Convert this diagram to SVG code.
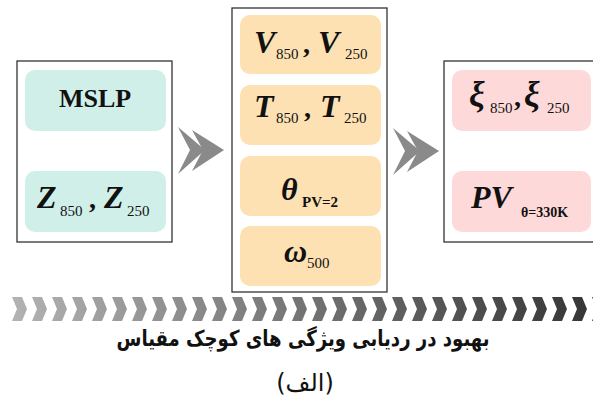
<svg xmlns="http://www.w3.org/2000/svg" width="593" height="399" viewBox="0 0 593 399">
<defs>
<linearGradient id="band" gradientUnits="userSpaceOnUse" x1="0" y1="0" x2="593" y2="0">
<stop offset="0" stop-color="#b5b5b5"/>
<stop offset="1" stop-color="#353535"/>
</linearGradient>
<g id="dbl">
<polygon points="0,0 27,23 0,47 12,23"/>
<polygon points="14,3 46,23 14,44 25,23"/>
</g>
</defs>
<style>
.outer{fill:#fff;stroke:#333;stroke-width:1.3}
.teal{fill:#d0efe9}
.peach{fill:#fde1b3}
.pink{fill:#fdd9d9}
.big{font-family:"Liberation Serif",serif;font-weight:bold;font-style:italic;font-size:32px;fill:#111}
.sub{font-family:"Liberation Serif",serif;font-size:15px;fill:#111}
.subb{font-family:"Liberation Serif",serif;font-size:15px;font-weight:bold;fill:#111}
.cm{font-family:"Liberation Serif",serif;font-weight:bold;font-size:28px;fill:#111}
.up{font-family:"Liberation Serif",serif;font-weight:bold;font-size:26px;fill:#111}
.fa{font-family:"DejaVu Sans",sans-serif;fill:#111}
.arw{fill:#8a8a8a}
</style>

<g id="left-box">
<rect class="outer" x="17" y="61" width="155" height="181"/>
</g>
<g id="mslp">
<rect class="teal" x="25" y="70" width="141" height="61" rx="10"/>
<text class="up" x="95" y="107" text-anchor="middle">MSLP</text>
</g>
<g id="z">
<rect class="teal" x="25" y="171" width="141" height="61" rx="10"/>
<text class="big" x="37" y="208">Z</text>
<text class="sub" x="60" y="216">850</text>
<text class="cm" x="89" y="208">,</text>
<text class="big" x="104" y="208">Z</text>
<text class="sub" x="127" y="216">250</text>
</g>

<g id="middle-box">
<rect class="outer" x="232" y="8" width="155" height="284"/>
</g>
<g id="v">
<rect class="peach" x="240" y="15" width="141" height="59" rx="10"/>
<text class="big" x="254" y="53">V</text>
<text class="sub" x="276" y="59">850</text>
<text class="cm" x="303" y="53">,</text>
<text class="big" x="318" y="53">V</text>
<text class="sub" x="345" y="59">250</text>
</g>
<g id="t">
<rect class="peach" x="240" y="85" width="141" height="60" rx="10"/>
<text class="big" x="254" y="117">T</text>
<text class="sub" x="276" y="123">850</text>
<text class="cm" x="304" y="117">,</text>
<text class="big" x="320" y="117">T</text>
<text class="sub" x="344" y="123">250</text>
</g>
<g id="theta">
<rect class="peach" x="240" y="156" width="141" height="60" rx="10"/>
<text class="big" x="281" y="200">θ</text>
<text class="subb" x="302" y="207">PV=2</text>
</g>
<g id="omega">
<rect class="peach" x="240" y="226" width="141" height="60" rx="10"/>
<text class="big" x="284" y="262">ω</text>
<text class="sub" x="307" y="268">500</text>
</g>

<g id="right-box">
<rect class="outer" x="444" y="61" width="160" height="181"/>
</g>
<g id="xi">
<rect class="pink" x="452" y="70" width="139" height="61" rx="10"/>
<text class="big" x="469" y="106" style="font-size:35px">ξ</text>
<text class="sub" x="490" y="113">850</text>
<text class="cm" x="514" y="106">,</text>
<text class="big" x="524" y="106" style="font-size:35px">ξ</text>
<text class="sub" x="547" y="113">250</text>
</g>
<g id="pv">
<rect class="pink" x="452" y="171" width="139" height="61" rx="10"/>
<text class="big" x="471" y="208">PV</text>
<text class="subb" x="521" y="217" style="font-size:14px">θ=330K</text>
</g>

<g id="connectors" class="arw">
<use href="#dbl" x="178" y="127"/>
<use href="#dbl" x="393" y="128"/>
</g>

<path id="band" fill="url(#band)" d="M12,297h10l5,12l-5,12h-10l5,-12z M32,297h10l5,12l-5,12h-10l5,-12z M52,297h10l5,12l-5,12h-10l5,-12z M72,297h10l5,12l-5,12h-10l5,-12z M92,297h10l5,12l-5,12h-10l5,-12z M112,297h10l5,12l-5,12h-10l5,-12z M132,297h10l5,12l-5,12h-10l5,-12z M152,297h10l5,12l-5,12h-10l5,-12z M172,297h10l5,12l-5,12h-10l5,-12z M192,297h10l5,12l-5,12h-10l5,-12z M212,297h10l5,12l-5,12h-10l5,-12z M232,297h10l5,12l-5,12h-10l5,-12z M252,297h10l5,12l-5,12h-10l5,-12z M272,297h10l5,12l-5,12h-10l5,-12z M292,297h10l5,12l-5,12h-10l5,-12z M312,297h10l5,12l-5,12h-10l5,-12z M332,297h10l5,12l-5,12h-10l5,-12z M352,297h10l5,12l-5,12h-10l5,-12z M372,297h10l5,12l-5,12h-10l5,-12z M392,297h10l5,12l-5,12h-10l5,-12z M412,297h10l5,12l-5,12h-10l5,-12z M432,297h10l5,12l-5,12h-10l5,-12z M452,297h10l5,12l-5,12h-10l5,-12z M472,297h10l5,12l-5,12h-10l5,-12z M492,297h10l5,12l-5,12h-10l5,-12z M512,297h10l5,12l-5,12h-10l5,-12z M532,297h10l5,12l-5,12h-10l5,-12z M552,297h10l5,12l-5,12h-10l5,-12z M572,297h10l5,12l-5,12h-10l5,-12z M592,297h10l5,12l-5,12h-10l5,-12z"/>

<text class="fa" x="303" y="346" text-anchor="middle" direction="rtl" font-size="22" font-weight="bold" textLength="373" lengthAdjust="spacingAndGlyphs">بهبود در ردیابی ویژگی های کوچک مقیاس</text>
<text class="fa" x="305" y="391" text-anchor="middle" direction="rtl" font-size="24">(الف)</text>
</svg>
